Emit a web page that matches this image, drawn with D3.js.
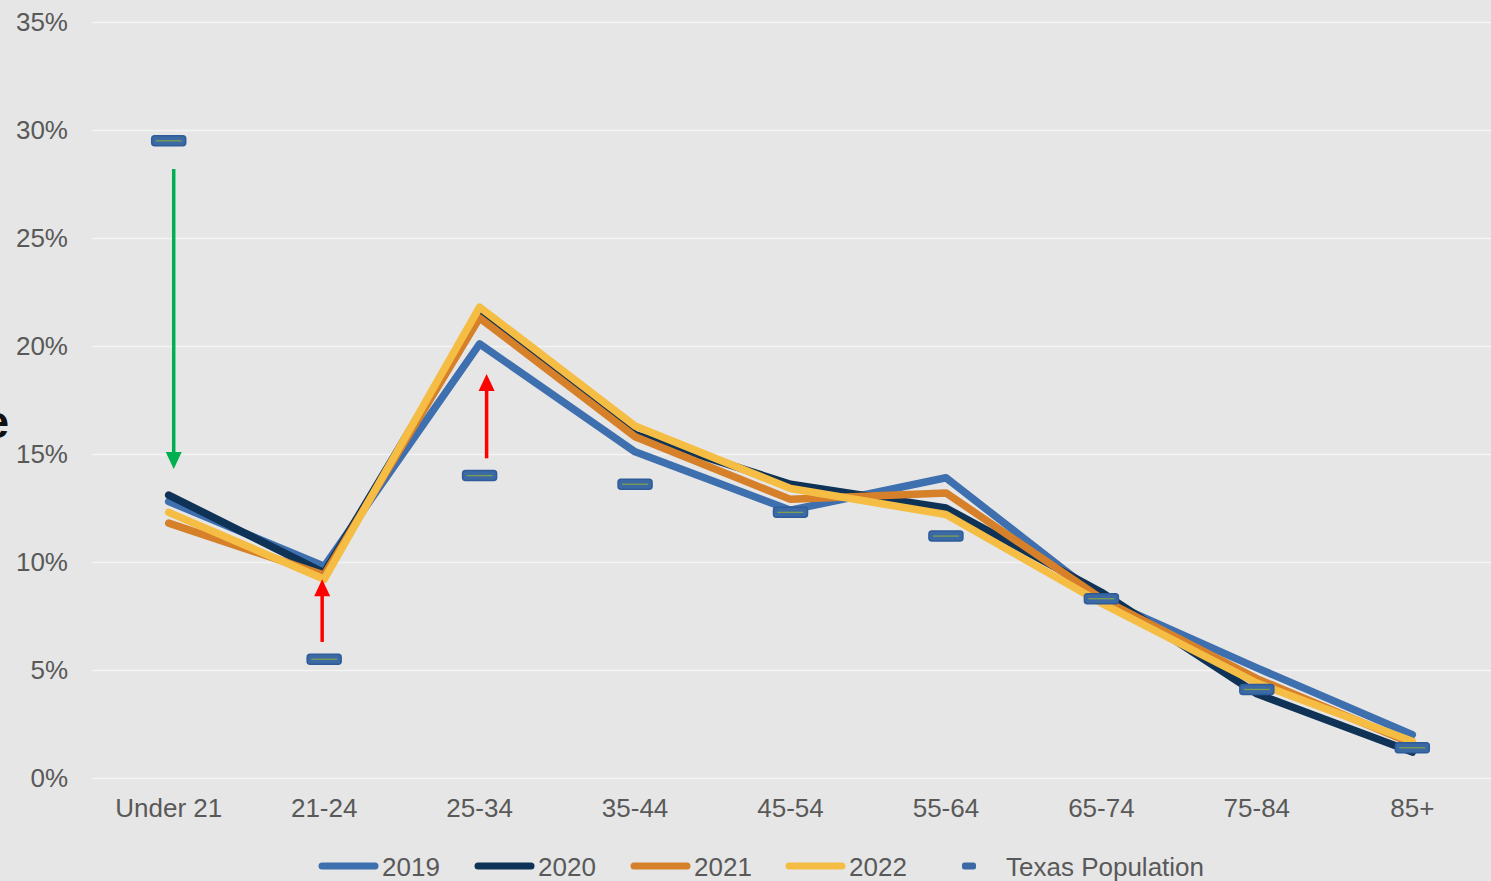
<!DOCTYPE html>
<html>
<head>
<meta charset="utf-8">
<script src="https://cdn.jsdelivr.net/npm/d3@7"></script>
<style>
  body { margin: 0; background: #e6e6e6; }
  svg { display: block; font-family: "Liberation Sans", Arial, sans-serif; }
</style>
</head>
<body>
<div id="chart"></div>
<script>
// Age distribution vs Texas population

const ageGroups = ["Under 21", "21-24", "25-34", "35-44", "45-54", "55-64", "65-74", "75-84", "85+"];

const years = ["2019", "2020", "2021", "2022"];
const values2019 = [0.128, 0.098, 0.201, 0.151, 0.124, 0.139, 0.083, 0.051, 0.020];
const values2020 = [0.131, 0.095, 0.215, 0.159, 0.136, 0.125, 0.086, 0.039, 0.012];
const values2021 = [0.118, 0.094, 0.213, 0.158, 0.129, 0.132, 0.083, 0.046, 0.016];
const values2022 = [0.123, 0.092, 0.218, 0.163, 0.134, 0.122, 0.081, 0.044, 0.017];
const texasPop   = [0.295, 0.055, 0.140, 0.136, 0.123, 0.112, 0.083, 0.041, 0.014];

const yTicks = [0, 0.05, 0.10, 0.15, 0.20, 0.25, 0.30, 0.35];

// annotation arrows: category, start value, end value
const arrows = [
    {cat: "Under 21", from: 0.282, to: 0.143, color: "#00b050"},
    {cat: "21-24",    from: 0.063, to: 0.092, color: "#ff0000"},
    {cat: "25-34",    from: 0.148, to: 0.187, color: "#ff0000"}
];

const colors = {"2019": "#3e6fae", "2020": "#0e3356", "2021": "#d6802a", "2022": "#f6bd45"};
const series = [values2019, values2020, values2021, values2022];

const width = 1491, height = 881,
      margin = ({top: 22, right: 1, bottom: 103, left: 90});

let svg = d3.select("#chart")
    .append("svg")
    .attr("width", width)
    .attr("height", height)
    .attr("viewBox", [0, 0, width, height]);

svg.append("rect")
    .attr("width", width)
    .attr("height", height)
    .attr("fill", "#e6e6e6");

let x = d3.scaleBand()
    .domain(ageGroups)
    .range([margin.left + 1, width - margin.right]);

const cx = d => x(d) + x.bandwidth() / 2;

let y = d3.scaleLinear()
    .domain([0, 0.35])
    .range([height - margin.bottom, margin.top]);

// y axis + gridlines
const yAxis = g => g
    .attr("transform", `translate(${margin.left + 2},0)`)
    .call(d3.axisLeft(y)
        .tickValues(yTicks)
        .tickFormat(d3.format(".0%"))
        .tickSize(-(width - margin.left - 2))
        .tickPadding(24))
    .call(g => g.select(".domain").remove())
    .call(g => g.selectAll(".tick line")
        .attr("stroke", "#f4f4f4")
        .attr("stroke-width", 1.6))
    .call(g => g.selectAll(".tick text")
        .attr("fill", "#595959")
        .attr("font-size", 26)
        .attr("font-family", "Liberation Sans, Arial, sans-serif"));

svg.append("g").call(yAxis);

// x axis
const xAxis = g => g
    .attr("transform", `translate(0,${height - margin.bottom})`)
    .call(d3.axisBottom(x).tickSize(0).tickPadding(21))
    .call(g => g.select(".domain").remove())
    .call(g => g.selectAll(".tick text")
        .attr("fill", "#595959")
        .attr("font-size", 26)
        .attr("font-family", "Liberation Sans, Arial, sans-serif"));

svg.append("g").call(xAxis);

// lines
const line = d3.line()
    .x((d, i) => cx(ageGroups[i]))
    .y(d => y(d));

svg.append("g")
    .selectAll("path")
    .data(series)
    .join("path")
    .attr("fill", "none")
    .attr("stroke", (d, i) => colors[years[i]])
    .attr("stroke-width", 7.5)
    .attr("stroke-linejoin", "round")
    .attr("stroke-linecap", "round")
    .attr("d", line);

// arrows
const arrowOffset = {"Under 21": 5, "21-24": -2, "25-34": 7};

let arr = svg.append("g")
    .selectAll("g")
    .data(arrows)
    .join("g");

arr.append("line")
    .attr("x1", d => cx(d.cat) + arrowOffset[d.cat])
    .attr("x2", d => cx(d.cat) + arrowOffset[d.cat])
    .attr("y1", d => y(d.from))
    .attr("y2", d => y(d.to) + (d.to > d.from ? 12 : -12))
    .attr("stroke", d => d.color)
    .attr("stroke-width", 3.5);

arr.append("path")
    .attr("fill", d => d.color)
    .attr("d", d => {
        const ax = cx(d.cat) + arrowOffset[d.cat], ay = y(d.to);
        const dir = d.to > d.from ? 1 : -1; // 1 = pointing up
        return `M${ax},${ay} L${ax - 8},${ay + dir * 17} L${ax + 8},${ay + dir * 17} Z`;
    });

// Texas population markers
let mk = svg.append("g")
    .selectAll("g")
    .data(texasPop)
    .join("g")
    .attr("transform", (d, i) => `translate(${cx(ageGroups[i])},${y(d)})`);

mk.append("rect")
    .attr("x", -17)
    .attr("y", -5)
    .attr("width", 34)
    .attr("height", 10)
    .attr("rx", 3)
    .attr("fill", "#3b69a6")
    .attr("stroke", "#2f5c98")
    .attr("stroke-width", 1.5);

mk.append("line")
    .attr("x1", -13)
    .attr("x2", 13)
    .attr("stroke", "#7e9e4e")
    .attr("stroke-width", 1.3);

// legend
const legendY = 866;
let legend = svg.append("g");

const legendX = [318, 474, 630, 785];
years.forEach((yr, i) => {
    legend.append("line")
        .attr("x1", legendX[i] + 4)
        .attr("x2", legendX[i] + 57)
        .attr("y1", legendY)
        .attr("y2", legendY)
        .attr("stroke", colors[yr])
        .attr("stroke-width", 7)
        .attr("stroke-linecap", "round");
    legend.append("text")
        .attr("x", legendX[i] + 64)
        .attr("y", legendY + 10)
        .attr("fill", "#595959")
        .attr("font-size", 26)
        .text(yr);
});

legend.append("rect")
    .attr("x", 962)
    .attr("y", legendY - 3.5)
    .attr("width", 14)
    .attr("height", 7)
    .attr("rx", 2.5)
    .attr("fill", "#3b69a6");

legend.append("text")
    .attr("x", 1006)
    .attr("y", legendY + 10)
    .attr("fill", "#595959")
    .attr("font-size", 26)
    .text("Texas Population");

// cut-off title letter at left edge (partly outside the frame in the original)
svg.append("text")
    .attr("x", 9)
    .attr("y", 438)
    .attr("text-anchor", "end")
    .attr("font-size", 46)
    .attr("font-weight", "bold")
    .attr("fill", "#111")
    .text("e");
</script>
</body>
</html>
